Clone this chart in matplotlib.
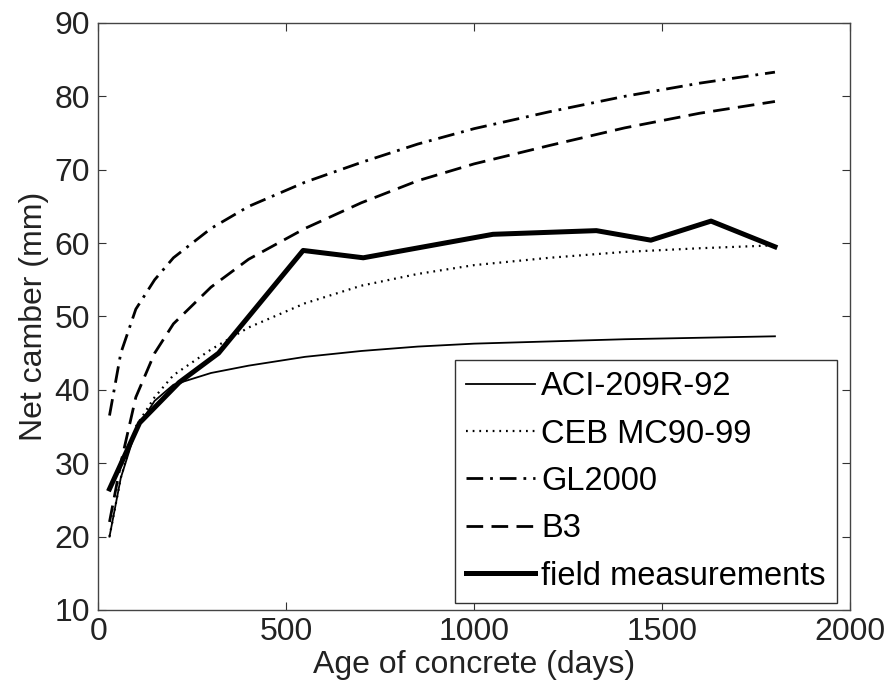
"""Net camber vs age of concrete: model predictions and field data."""
import matplotlib
matplotlib.use("Agg")
import matplotlib.pyplot as plt

# model curves, all sampled at the same ages (days)
model_days = [30, 60, 100, 150, 200, 300, 400, 550, 700, 850, 1000, 1200, 1400, 1600, 1800]
aci = [20, 28, 34.5, 38.5, 40.7, 42.3, 43.3, 44.5, 45.3, 45.9, 46.3, 46.6, 46.9, 47.1, 47.3]
ceb = [20, 28, 35, 39, 42, 45.5, 48.5, 51.8, 54.2, 55.8, 57, 58, 58.8, 59.3, 59.7]
gl2000 = [36.5, 45, 51, 55, 58, 62, 65, 68.3, 71, 73.5, 75.6, 77.9, 80, 81.8, 83.3]
b3 = [22, 30, 39, 45, 49, 54, 57.8, 62, 65.5, 68.5, 70.8, 73.3, 75.7, 77.7, 79.3]

# field measurements
field_days = [30, 110, 215, 320, 545, 705, 1050, 1325, 1470, 1630, 1800]
field = [26.5, 35.5, 41, 45, 59, 58, 61.2, 61.7, 60.4, 63, 59.5]

plt.rcParams["font.family"] = ["Liberation Sans", "DejaVu Sans"]
plt.rcParams["font.size"] = 23

fig = plt.figure(figsize=(8.93, 6.92), dpi=100)
ax = fig.add_axes([0.110, 0.1185, 0.842, 0.8483])

ax.plot(model_days, aci, color="black", lw=1.3, label="ACI-209R-92")
ax.plot(model_days, ceb, color="black", lw=1.6, dashes=(0.8, 2.2), label="CEB MC90-99")
ax.plot(model_days, gl2000, color="black", lw=2.0, dashes=(6, 2.5, 1, 2.5), label="GL2000")
ax.plot(model_days, b3, color="black", lw=2.0, dashes=(6, 3), label="B3")
ax.plot(field_days, field, color="black", lw=3.6, label="field measurements")

ax.set_xlim(0, 2000)
ax.set_ylim(10, 90)
ax.set_xticks([0, 500, 1000, 1500, 2000])
ax.set_yticks(range(10, 91, 10))
ax.tick_params(direction="in", top=True, right=True, length=6, width=0.8,
               labelsize=23, pad=3, colors="#333333", labelcolor="#222222")
ax.tick_params(axis="y", pad=6)
ax.tick_params(axis="x", pad=5)
for s in ax.spines.values():
    s.set_color("#444444")
    s.set_linewidth(1.0)

ax.set_xlabel("Age of concrete (days)", fontsize=23, color="#222222", labelpad=2)
ax.set_ylabel("Net camber (mm)", fontsize=23, color="#222222", labelpad=4)

leg = ax.legend(loc="lower right", bbox_to_anchor=(0.983, 0.012), borderaxespad=0,
                fancybox=False, framealpha=1, edgecolor="#333333", fontsize=23.5,
                handlelength=2.1, handletextpad=0.2, labelspacing=0.5,
                borderpad=0.35)
leg.get_frame().set_linewidth(1.0)

fig.savefig("out.png", dpi=100)
